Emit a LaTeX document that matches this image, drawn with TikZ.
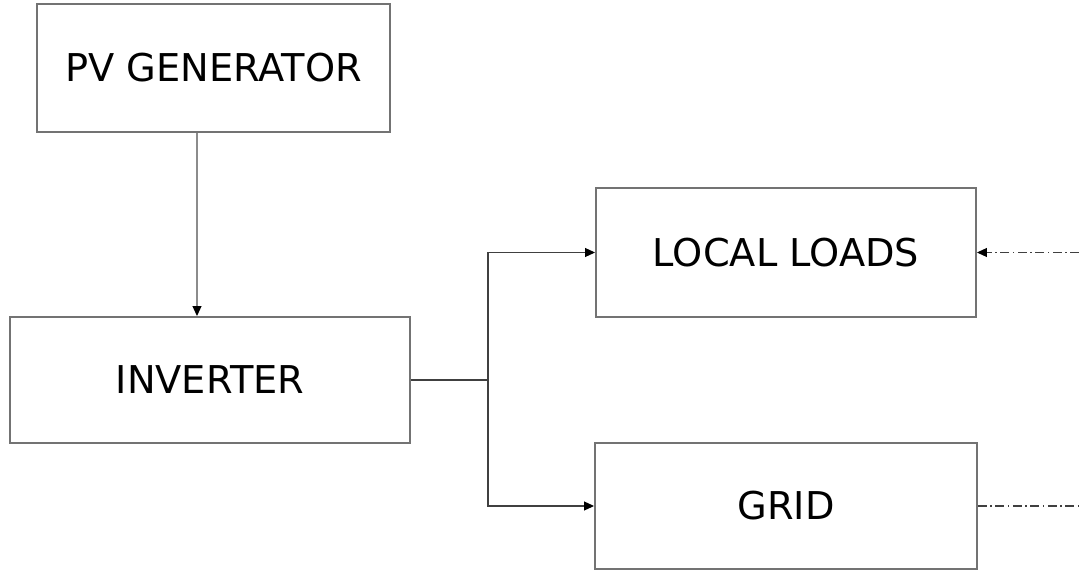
\documentclass[tikz,border=0pt]{standalone}
\usepackage{fontspec}
\setmainfont{DejaVu Sans}
\usetikzlibrary{arrows.meta}

\begin{document}
\begin{tikzpicture}[every node/.style={font=\fontsize{21.8}{26}\selectfont}, box/.style={draw=black!55, line width=1.1pt, minimum height=2.54cm, inner sep=0pt}, arr/.style={-{Triangle[length=0.2cm,width=0.18cm,color=black]}}, link/.style={draw=black!75, line width=0.6pt}, dashdot/.style={dash pattern=on 0.18cm off 0.07cm on 0.03cm off 0.07cm}]
\useasboundingbox (0,0) rectangle (21.58,11.42);
\node[box, minimum width=7.06cm, minimum height=2.56cm] (pv) at (4.27,10.06) {PV GENERATOR};
\node[box, minimum width=8cm, minimum height=2.52cm] (inv) at (4.2,3.82) {INVERTER};
\node[box, minimum width=7.6cm, minimum height=2.58cm] (ll) at (15.72,6.37) {LOCAL LOADS};
\node[box, minimum width=7.64cm, minimum height=2.52cm] (grid) at (15.72,1.3) {GRID};
\coordinate (split) at (9.76,3.82);
\coordinate (llin) at (21.58,6.37);
\coordinate (gridout) at (21.58,1.3);
\draw[link, draw=black!45, arr] ([xshift=-0.33cm]pv.south) -- ([xshift=-0.33cm]pv.south |- inv.north);
\draw[link] (inv.east) -- (split); \draw[link, arr] (split) |- (ll.west); \draw[link, arr] (split) |- (grid.west);
\draw[link, dashdot, arr] (llin) -- (ll.east); \draw[link, dashdot] (grid.east) -- (gridout);
\end{tikzpicture}
\end{document}
